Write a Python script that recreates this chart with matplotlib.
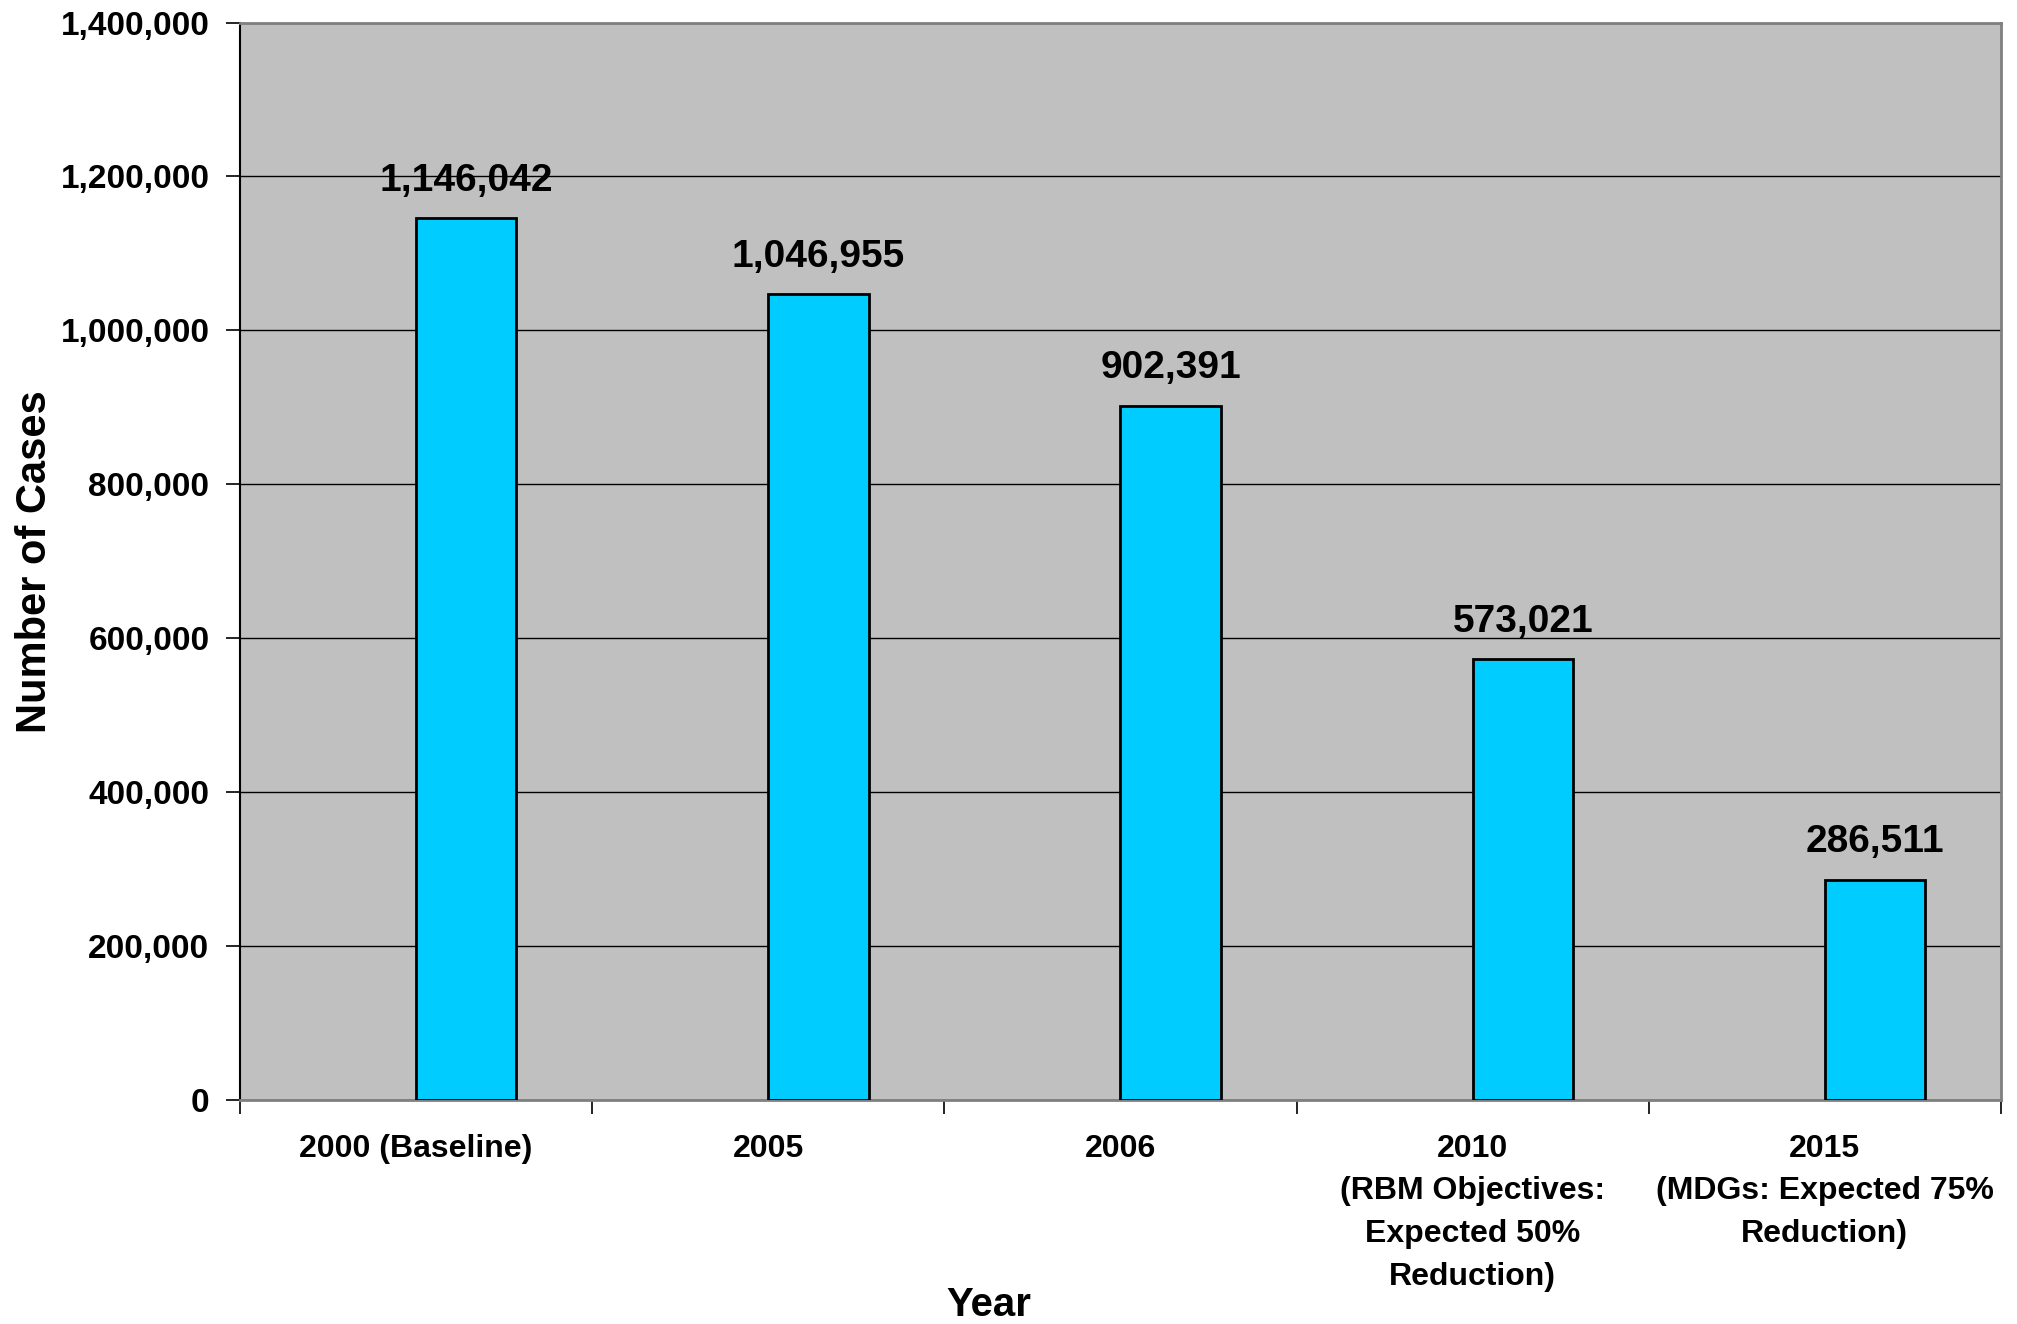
import matplotlib.pyplot as plt
import numpy as np

categories = ["2000 (Baseline)", "2005", "2006",
              "2010\n(RBM Objectives:\nExpected 50%\nReduction)",
              "2015\n(MDGs: Expected 75%\nReduction)"]
cases = [1146042, 1046955, 902391, 573021, 286511]
yticks = [0, 200000, 400000, 600000, 800000, 1000000, 1200000, 1400000]

plt.rcParams['font.family'] = ['Liberation Sans', 'DejaVu Sans']
plt.rcParams['font.weight'] = 'bold'

fig = plt.figure(figsize=(20.17, 13.24), dpi=100)
ax = fig.add_axes([0.119, 0.169, 0.873, 0.814])
ax.set_facecolor('#C0C0C0')

x = np.arange(len(cases))
bw = 0.285
bars = ax.bar(x + bw / 2, cases, width=bw, color='#00CCFF', edgecolor='black', linewidth=2, zorder=3)

for xi, v in zip(x, cases):
    ax.annotate(f"{v:,}", (xi + bw / 2, v), xytext=(0, 14), textcoords='offset points',
                ha='center', va='bottom', fontsize=28, fontweight='bold')

ax.set_xlim(-0.5, len(cases) - 0.5)
ax.set_ylim(0, 1400000)
ax.set_yticks(yticks)
ax.set_yticklabels([f"{t:,}" for t in yticks], fontsize=24, fontweight='bold')
ax.yaxis.grid(True, color='black', linewidth=1, zorder=1)
ax.set_axisbelow(True)

# category boundaries get the tick marks, labels sit in the middle
ax.set_xticks(np.arange(-0.5, len(cases), 1.0))
ax.set_xticklabels([])
ax.set_xticks(x, minor=True)
ax.set_xticklabels(categories, minor=True, fontsize=23, fontweight='bold', linespacing=1.55, va='top')
ax.tick_params(axis='x', which='minor', length=0, pad=24)
ax.tick_params(axis='x', which='major', length=10, width=1.2, direction='out')
ax.tick_params(axis='y', length=10, width=1.2, direction='out', pad=12)

for side in ['top', 'right', 'bottom']:
    ax.spines[side].set_color('#808080')
    ax.spines[side].set_linewidth(2)
ax.spines['left'].set_color('black')
ax.spines['left'].set_linewidth(1.5)

ax.set_ylabel("Number of Cases", fontsize=30, fontweight='bold')
ax.yaxis.set_label_coords(-0.105, 0.5)
fig.text(0.49, 0.014, "Year", ha='center', va='center', fontsize=29, fontweight='bold')

fig.savefig('out.png', dpi=100)
